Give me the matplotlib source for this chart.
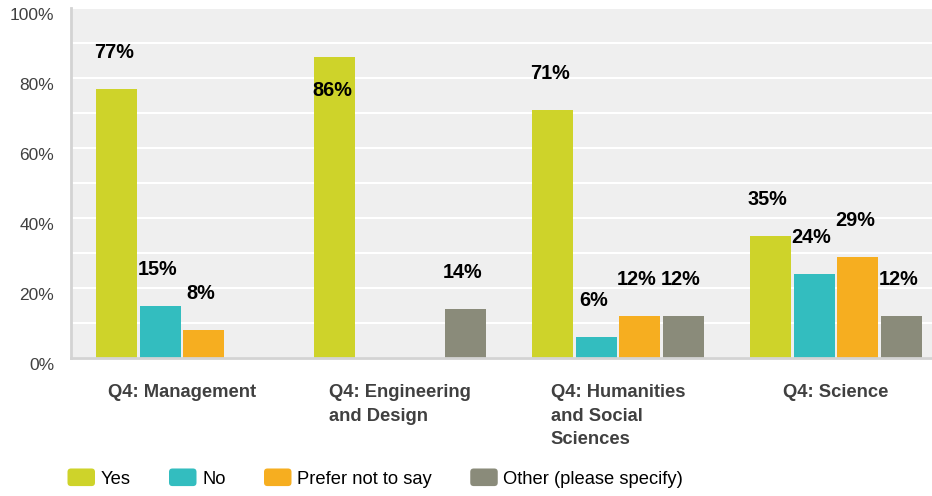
import numpy as np
import matplotlib.pyplot as plt
from matplotlib.patches import FancyBboxPatch, Rectangle
from matplotlib.legend_handler import HandlerPatch

plt.rcParams['font.family'] = ['Liberation Sans', 'DejaVu Sans']

# Data
categories = ["Q4: Management", "Q4: Engineering\nand Design",
              "Q4: Humanities\nand Social\nSciences", "Q4: Science"]
series_names = ["Yes", "No", "Prefer not to say", "Other (please specify)"]
yes = [77, 86, 71, 35]
no = [15, 0, 6, 24]
prefer_not = [8, 0, 12, 29]
other = [0, 14, 12, 12]

colors = ["#CED32A", "#33BDBF", "#F6AE20", "#8A8B7A"]
series = [yes, no, prefer_not, other]


class RoundHandler(HandlerPatch):
    # rounded square legend keys
    def create_artists(self, legend, orig_handle, xdescent, ydescent,
                       width, height, fontsize, trans):
        p = FancyBboxPatch((-xdescent, -ydescent), width, height,
                           boxstyle="round,pad=0,rounding_size=2.5",
                           facecolor=orig_handle.get_facecolor(),
                           edgecolor="none", transform=trans)
        return [p]


fig = plt.figure(figsize=(9.32, 4.96), dpi=100)
ax = fig.add_axes([71 / 932, 138 / 496, 861 / 932, 350 / 496])
ax.set_facecolor("#EFEFEF")

x = np.arange(len(categories))
width = 0.188
offsets = [-0.3, -0.1, 0.1, 0.3]

for vals, name, col, off in zip(series, series_names, colors, offsets):
    ax.bar(x + off, vals, width, color=col, label=name, zorder=2)
    for xi, v in zip(x, vals):
        if v <= 0:
            continue
        # labels sit above the bar, except for very tall bars
        dy = 26 if v < 80 else -24
        ax.annotate(f"{v}%", (xi + off, v), xytext=(-2, dy),
                    textcoords="offset points", ha="center", va="center",
                    fontsize=14.3, fontweight="bold", color="black", zorder=3)

ax.set_xlim(-0.509, 3.44)
ax.set_ylim(0, 100)
ax.set_yticks(np.arange(0, 101, 20))
ax.set_yticklabels([f"{t}%" for t in range(0, 101, 20)])
ax.set_yticks(np.arange(0, 101, 10), minor=True)
ax.grid(True, axis="y", which="both", color="white", linewidth=1.5, zorder=1)
ax.set_axisbelow(True)

ax.set_xticks(x)
ax.set_xticklabels(categories, fontsize=13.2, fontweight="bold", color="#404040",
                   linespacing=1.5, multialignment="left", va="top")
ax.tick_params(axis="x", length=0, pad=19)
ax.tick_params(axis="y", which="both", length=0, pad=12, labelsize=12.5,
               labelcolor="#404040")
for lab in ax.get_yticklabels():
    lab.set_verticalalignment("top")

for s in ["top", "right"]:
    ax.spines[s].set_visible(False)
for s in ["left", "bottom"]:
    ax.spines[s].set_color("#D3D3D3")
    ax.spines[s].set_linewidth(2)

handles = [Rectangle((0, 0), 1, 1, facecolor=c) for c in colors]
leg = fig.legend(handles, series_names, loc="center left",
                 bbox_to_anchor=(51 / 932, 18 / 496), ncol=4,
                 frameon=False, fontsize=13.2, handlelength=1.5, handleheight=1.1,
                 handletextpad=0.3, columnspacing=2.1,
                 handler_map={Rectangle: RoundHandler()})

fig.savefig("out.png", dpi=100)
